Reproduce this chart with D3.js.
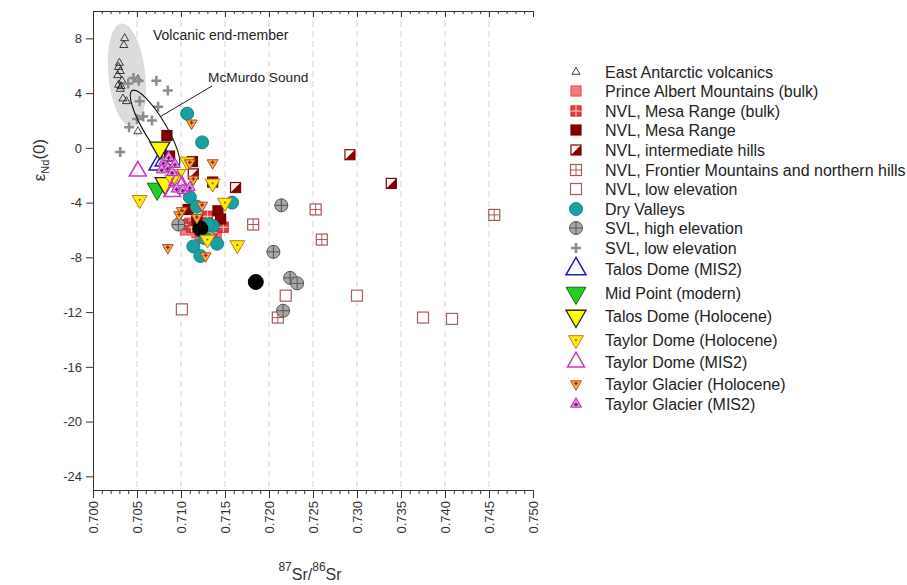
<!DOCTYPE html>
<meta charset="utf-8">
<body style="margin:0;background:#fff">
<script src="https://d3js.org/d3.v7.min.js"></script>
<script>
// values: [87Sr/86Sr, eNd(0)]
var volcanics = [[0.7036,8.0],[0.7035,7.5],[0.7030,6.2],[0.7029,5.9],[0.7031,5.6],[0.7028,5.3],[0.7033,4.9],
  [0.7029,4.6],[0.7031,4.3],[0.7051,5.0],[0.7034,3.6],[0.7038,3.4],[0.7051,1.2],[0.7032,4.5]];
var princeAlbert = [[0.7110,-5.5],[0.7118,-6.2],[0.7125,-6.5],[0.7133,-5.8],[0.7140,-6.3],[0.7145,-5.5],[0.7105,-6.0],[0.7128,-5.2]];
var mesaBulk = [[0.7112,-5.8],[0.7122,-6.6],[0.7135,-6.2],[0.7148,-5.8],[0.7102,-5.6],[0.7130,-5.0]];
var mesa = [[0.7084,0.9],[0.7087,-0.6],[0.7113,-1.0],[0.7136,-2.5],[0.7142,-4.6],[0.7145,-5.2],[0.7118,-5.3],[0.7108,-4.5]];
var intermediate = [[0.7292,-0.5],[0.7339,-2.6],[0.7162,-2.9],[0.7114,-1.9]];
var frontier = [[0.7182,-5.6],[0.7253,-4.5],[0.7260,-6.7],[0.7210,-12.4],[0.7456,-4.9]];
var nvlLow = [[0.7101,-11.8],[0.7219,-10.8],[0.7300,-10.8],[0.7375,-12.4],[0.7408,-12.5]];
var dryValleys = [[0.7107,2.5],[0.7124,0.4],[0.7110,-3.6],[0.7114,-7.2],[0.7122,-7.9],[0.7136,-5.7],[0.7141,-7.0],
  [0.7158,-4.0],[0.7131,-5.6],[0.7118,-4.3],[0.7127,-6.6]];
var svlHigh = [[0.7097,-5.6],[0.7214,-4.2],[0.7205,-7.6],[0.7224,-9.5],[0.7232,-9.9],[0.7216,-11.9]];
var svlLow = [[0.7031,-0.3],[0.7046,5.1],[0.7040,4.7],[0.7052,4.9],[0.7085,4.2],[0.7074,3.0],[0.7057,2.3],
  [0.7041,1.5],[0.7053,3.4],[0.7067,2.0],[0.7050,2.1],[0.7072,4.9]];
var talosMis2 = [[0.7075,-1.2],[0.7082,-0.9]];
var midPoint = [[0.7073,-3.0]];
var talosHol = [[0.7076,0.0],[0.7082,-2.6]];
var taylorDomeHol = [[0.7053,-3.8],[0.7107,-1.0],[0.7097,-1.9],[0.7136,-2.6],[0.7150,-4.0],[0.7130,-6.7],[0.7164,-7.1],[0.7090,-2.3]];
var taylorDomeMis2 = [[0.7051,-1.7],[0.7101,-2.8],[0.7090,-3.2],[0.7096,-2.4]];
var taylorGlHol = [[0.7112,1.8],[0.7136,-1.1],[0.7110,-1.1],[0.7114,-2.3],[0.7101,-4.6],[0.7124,-4.2],[0.7118,-5.1],
  [0.7085,-7.3],[0.7128,-7.9],[0.7098,-4.9]];
var taylorGlMis2 = [[0.7080,-1.1],[0.7085,-1.5],[0.7078,-1.6],[0.7093,-1.2],[0.7086,-0.7],[0.7095,-3.0],[0.7102,-3.1],[0.7110,-2.9],[0.7090,-1.8]];
var unlabelled = [[0.7122,-5.9],[0.7185,-9.8]];

var names = ['East Antarctic volcanics','Prince Albert Mountains (bulk)','NVL, Mesa Range (bulk)','NVL, Mesa Range',
  'NVL, intermediate hills','NVL, Frontier Mountains and northern hills','NVL, low elevation','Dry Valleys',
  'SVL, high elevation','SVL, low elevation','Talos Dome (MIS2)','Mid Point (modern)','Talos Dome (Holocene)',
  'Taylor Dome (Holocene)','Taylor Dome (MIS2)','Taylor Glacier (Holocene)','Taylor Glacier (MIS2)'];
var seriesData = [volcanics, princeAlbert, mesaBulk, mesa, intermediate, frontier, nvlLow, dryValleys,
  svlHigh, svlLow, talosMis2, midPoint, talosHol, taylorDomeHol, taylorDomeMis2, taylorGlHol, taylorGlMis2];
var yTicks = [-24,-20,-16,-12,-8,-4,0,4,8];
var xTicks = [0.700,0.705,0.710,0.715,0.720,0.725,0.730,0.735,0.740,0.745,0.750];
// annotation ellipses: centre, semi-axes (data units), tilt
var volcEllipse = {cx:0.70385, cy:5.3, rx:0.0021, ry:3.8, rot:-6};
var mcmEllipse = {cx:0.70705, cy:1.4, rx:0.00125, ry:3.25, rot:-31};

var styles = [
  {shape:'triUp', size:8, fill:'none', stroke:'#111', sw:0.8},
  {shape:'square', size:10, fill:'#f47a78', stroke:'#e05a58'},
  {shape:'square', size:10, fill:'#e5403c', stroke:'#c83030', inner:'cross', ic:'#ffd0d0'},
  {shape:'square', size:10, fill:'#860000', stroke:'#700000'},
  {shape:'square', size:10, fill:'#fff', stroke:'#860000', inner:'half', ic:'#860000'},
  {shape:'square', size:11, fill:'#fff', stroke:'#a85858', inner:'cross', ic:'#a85858'},
  {shape:'square', size:11, fill:'#fff', stroke:'#a06060'},
  {shape:'circle', size:13, fill:'#17a0a2', stroke:'#128888'},
  {shape:'circle', size:13, fill:'#a8a8a8', stroke:'#555', inner:'cross', ic:'#555'},
  {shape:'plus', size:10, stroke:'#8c8c8c', sw:2.5},
  {shape:'triUp', size:20, fill:'none', stroke:'#1c1cc8', sw:1.5},
  {shape:'triDown', size:20, fill:'#22d022', stroke:'#116611', sw:1},
  {shape:'triDown', size:20, fill:'#ffff00', stroke:'#222', sw:1.3},
  {shape:'triDown', size:15, fill:'#ffee00', stroke:'#c07a20', sw:1, inner:'dot', ic:'#8a5a1a'},
  {shape:'triUp', size:17, fill:'none', stroke:'#cc33cc', sw:1.5},
  {shape:'triDown', size:11, fill:'#f6b13a', stroke:'#a0522d', sw:1, inner:'plus', ic:'#b01818'},
  {shape:'triUp', size:11, fill:'#e58ae5', stroke:'#aa33aa', sw:1, inner:'plus', ic:'#771177'}
];
var blackDot = {shape:'circle', size:15, fill:'#000', stroke:'#000'};

var svg = d3.select('body').append('svg').attr('width', 907).attr('height', 585)
  .style('font-family', 'Liberation Sans, Arial, sans-serif');

var x = d3.scaleLinear().domain([0.700, 0.750]).range([93, 533]);
var y = d3.scaleLinear().domain([-25, 10]).range([490, 11]);

// dashed grid
svg.append('g').selectAll('line').data(xTicks.slice(1, -1)).enter().append('line')
  .attr('x1', d => x(d)).attr('x2', d => x(d)).attr('y1', y(10)).attr('y2', y(-25))
  .attr('stroke', '#d4d4d4').attr('stroke-dasharray', '6,4');

// ellipses
function ellipse(e, fill, stroke) {
  var rx = x(e.cx + e.rx) - x(e.cx), ry = y(e.cy) - y(e.cy + e.ry);
  svg.append('ellipse').attr('cx', x(e.cx)).attr('cy', y(e.cy)).attr('rx', rx).attr('ry', ry)
    .attr('transform', 'rotate(' + e.rot + ',' + x(e.cx) + ',' + y(e.cy) + ')')
    .attr('fill', fill).attr('stroke', stroke).attr('stroke-width', 1.1);
}
ellipse(volcEllipse, '#dcdcdc', 'none');

// axes
var xMinor = d3.range(0, 51).map(i => 0.700 + i * 0.001);
var axB = svg.append('g').attr('transform', 'translate(0,' + y(-25) + ')')
  .call(d3.axisBottom(x).tickValues(xMinor).tickSize(4).tickFormat(''));
axB.select('.domain').remove();
axB.selectAll('line').attr('stroke', '#333');
var axBMaj = svg.append('g').attr('transform', 'translate(0,' + y(-25) + ')')
  .call(d3.axisBottom(x).tickValues(xTicks).tickSize(8).tickSizeOuter(0).tickFormat(d3.format('.3f')));
axBMaj.select('.domain').attr('stroke', '#333');
axBMaj.selectAll('.tick line').attr('stroke', '#333');
axBMaj.selectAll('.tick text').attr('transform', 'rotate(-90)').attr('x', -11).attr('y', 0).attr('dy', '0.35em')
  .attr('text-anchor', 'end').attr('font-size', 13).attr('fill', '#333').style('font-family', 'Liberation Sans, Arial, sans-serif');

var axT = svg.append('g').attr('transform', 'translate(0,' + y(10) + ')')
  .call(d3.axisBottom(x).tickValues(xMinor).tickSize(3).tickSizeOuter(0).tickFormat(''));
axT.select('.domain').attr('stroke', '#333');
axT.selectAll('line').attr('stroke', '#333');
svg.append('g').attr('transform', 'translate(0,' + y(10) + ')')
  .call(d3.axisBottom(x).tickValues(xTicks).tickSize(6).tickFormat(''))
  .call(g => g.select('.domain').remove()).selectAll('line').attr('stroke', '#333');

var axL = svg.append('g').attr('transform', 'translate(' + x(0.700) + ',0)')
  .call(d3.axisLeft(y).tickValues(yTicks).tickSize(7).tickSizeOuter(0).tickFormat(d => String(d)));
axL.select('.domain').attr('stroke', '#333');
axL.selectAll('.tick line').attr('stroke', '#333');
axL.selectAll('.tick text').attr('font-size', 13).attr('fill', '#333').attr('x', -11)
  .style('font-family', 'Liberation Sans, Arial, sans-serif');

// axis titles
var xl = svg.append('text').attr('x', 310).attr('y', 580).attr('text-anchor', 'middle').attr('fill', '#333').attr('font-size', 16);
xl.append('tspan').text('87').attr('font-size', 12).attr('dy', -9);
xl.append('tspan').text('Sr/').attr('dy', 9);
xl.append('tspan').text('86').attr('font-size', 12).attr('dy', -9);
xl.append('tspan').text('Sr').attr('dy', 9);

var yl = svg.append('text').attr('transform', 'translate(45,160) rotate(-90)').attr('text-anchor', 'middle')
  .attr('fill', '#333').attr('font-size', 17);
yl.append('tspan').text('ε');
yl.append('tspan').text('Nd').attr('font-size', 11).attr('dy', 4);
yl.append('tspan').text('(0)').attr('dy', -4);

// symbols
function tri(w, up) {
  var h = w * 0.866, s = up ? 1 : -1;
  return 'M0,' + (-s * h * 2 / 3) + 'L' + (w / 2) + ',' + (s * h / 3) + 'L' + (-w / 2) + ',' + (s * h / 3) + 'Z';
}
function symbol(g, st) {
  var w = st.size, r = w / 2;
  if (st.shape === 'triUp' || st.shape === 'triDown') {
    g.append('path').attr('d', tri(w, st.shape === 'triUp')).attr('fill', st.fill)
      .attr('stroke', st.stroke).attr('stroke-width', st.sw || 1);
    if (st.inner === 'dot') g.append('circle').attr('r', 1.1).attr('fill', st.ic);
    if (st.inner === 'plus') {
      var p = w * 0.17, c = st.shape === 'triUp' ? 0.5 : -0.5;
      g.append('path').attr('d', 'M' + (-p) + ',' + c + 'H' + p + 'M0,' + (c - p) + 'V' + (c + p))
        .attr('stroke', st.ic).attr('stroke-width', 1.3);
    }
  } else if (st.shape === 'square') {
    g.append('rect').attr('x', -r).attr('y', -r).attr('width', w).attr('height', w)
      .attr('fill', st.fill).attr('stroke', st.stroke).attr('stroke-width', 1.2);
    if (st.inner === 'cross') g.append('path').attr('d', 'M' + (-r) + ',0H' + r + 'M0,' + (-r) + 'V' + r)
      .attr('stroke', st.ic).attr('stroke-width', 1);
    if (st.inner === 'half') g.append('path').attr('d', 'M' + r + ',' + (-r) + 'L' + r + ',' + r + 'L' + (-r) + ',' + r + 'Z')
      .attr('fill', st.ic);
  } else if (st.shape === 'circle') {
    g.append('circle').attr('r', r).attr('fill', st.fill).attr('stroke', st.stroke).attr('stroke-width', 1);
    if (st.inner === 'cross') g.append('path').attr('d', 'M' + (-r) + ',0H' + r + 'M0,' + (-r) + 'V' + r)
      .attr('stroke', st.ic).attr('stroke-width', 1);
  } else if (st.shape === 'plus') {
    g.append('path').attr('d', 'M' + (-r) + ',0H' + r + 'M0,' + (-r) + 'V' + r)
      .attr('stroke', st.stroke).attr('stroke-width', st.sw);
  }
}

// draw order: background groups first, then ice core samples on top
var order = [0, 9, 1, 2, 3, 4, 5, 6, 7, 8];
order.forEach(function (i) {
  svg.append('g').selectAll('g').data(seriesData[i]).enter().append('g')
    .attr('transform', d => 'translate(' + x(d[0]) + ',' + y(d[1]) + ')')
    .each(function () { symbol(d3.select(this), styles[i]); });
});
svg.append('g').selectAll('g').data(unlabelled).enter().append('g')
  .attr('transform', d => 'translate(' + x(d[0]) + ',' + y(d[1]) + ')')
  .each(function () { symbol(d3.select(this), blackDot); });
ellipse(mcmEllipse, 'none', '#111');
[10, 11, 12, 13, 14, 15, 16].forEach(function (i) {
  svg.append('g').selectAll('g').data(seriesData[i]).enter().append('g')
    .attr('transform', d => 'translate(' + x(d[0]) + ',' + y(d[1]) + ')')
    .each(function () { symbol(d3.select(this), styles[i]); });
});

// annotations
svg.append('text').attr('x', 153).attr('y', 40).attr('font-size', 14).attr('fill', '#222').text('Volcanic end-member');
svg.append('text').attr('x', 208).attr('y', 82).attr('font-size', 13.7).attr('fill', '#222').text('McMurdo Sound');
svg.append('line').attr('x1', 212).attr('y1', 86).attr('x2', x(0.7077)).attr('y2', y(2.3))
  .attr('stroke', '#222').attr('stroke-width', 1);

// legend
var rowY = [72, 91, 111, 130, 150, 170, 189, 209, 228, 248, 269, 293, 316, 340, 362, 384, 404];
var leg = svg.append('g');
names.forEach(function (n, i) {
  var g = leg.append('g').attr('transform', 'translate(576,' + rowY[i] + ')');
  symbol(g, styles[i]);
  g.append('text').attr('x', 29).attr('dy', '0.35em').attr('font-size', 16).attr('fill', '#222').text(n);
});
</script>
</body>
